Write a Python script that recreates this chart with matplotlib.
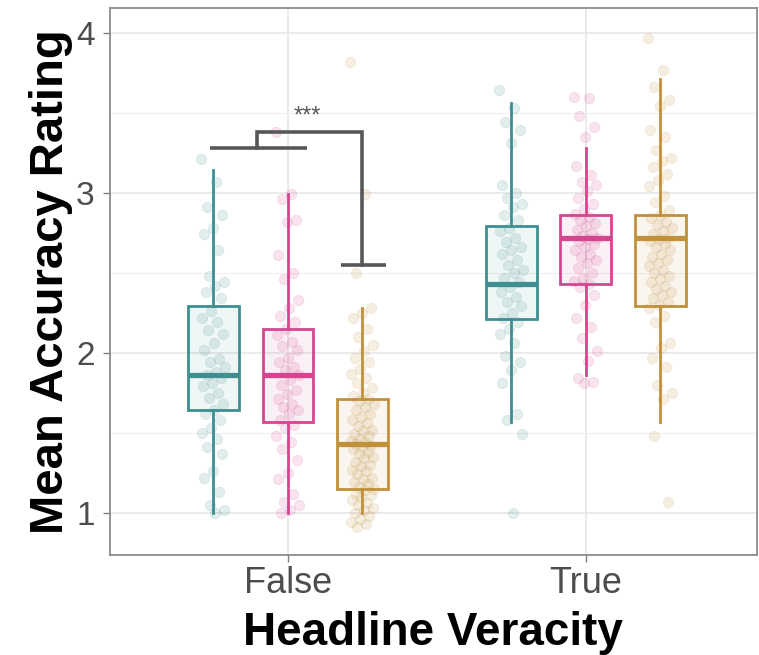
import matplotlib.pyplot as plt
import numpy as np

# x positions: 1 = False, 2 = True ; three groups per veracity level
veracity_labels = ["False", "True"]
group_colors = ["#3f8e90", "#d6468f", "#c0903a"]

# box summary stats (q1, median, q3, whisker low, whisker high)
false_q1 = [1.64, 1.57, 1.15]
false_med = [1.86, 1.86, 1.43]
false_q3 = [2.29, 2.15, 1.71]
false_wlo = [1.00, 1.00, 1.00]
false_whi = [3.14, 2.99, 2.28]

true_q1 = [2.21, 2.43, 2.29]
true_med = [2.43, 2.72, 2.72]
true_q3 = [2.79, 2.86, 2.86]
true_wlo = [1.57, 1.86, 1.57]
true_whi = [3.56, 3.28, 3.71]

# individual participant means (jittered points)
false_teal = [3.21, 3.07, 2.91, 2.86, 2.78, 2.74, 2.64, 2.48, 2.44, 2.42, 2.38, 2.34,
              2.26, 2.22, 2.19, 2.14, 2.12, 2.06, 2.02, 1.96, 1.94, 1.91, 1.88, 1.86,
              1.84, 1.81, 1.79, 1.75, 1.72, 1.68, 1.64, 1.62, 1.58, 1.53, 1.50, 1.46,
              1.41, 1.37, 1.26, 1.22, 1.13, 1.05, 1.02, 1.00]
false_pink = [3.38, 2.99, 2.96, 2.83, 2.82, 2.61, 2.50, 2.46, 2.33, 2.28, 2.23, 2.19,
              2.15, 2.11, 2.07, 2.04, 2.02, 1.97, 1.94, 1.91, 1.89, 1.86, 1.83, 1.80,
              1.77, 1.74, 1.71, 1.68, 1.66, 1.64, 1.62, 1.58, 1.55, 1.53, 1.48, 1.44,
              1.40, 1.33, 1.25, 1.21, 1.12, 1.07, 1.05, 1.02, 1.00]
false_gold = [3.82, 2.99, 2.50, 2.28, 2.25, 2.22, 2.15, 2.10, 2.05, 2.01, 1.97, 1.94,
              1.90, 1.87, 1.84, 1.81, 1.78, 1.75, 1.73, 1.71, 1.70, 1.68, 1.66, 1.64,
              1.62, 1.60, 1.58, 1.56, 1.54, 1.52, 1.51, 1.49, 1.48, 1.46, 1.45, 1.44,
              1.43, 1.42, 1.41, 1.40, 1.38, 1.37, 1.35, 1.34, 1.32, 1.30, 1.29, 1.27,
              1.26, 1.24, 1.22, 1.21, 1.19, 1.18, 1.16, 1.15, 1.14, 1.12, 1.11, 1.10,
              1.08, 1.06, 1.05, 1.03, 1.02, 1.00, 0.98, 0.96, 0.94, 0.93, 0.91]
true_teal = [3.64, 3.53, 3.44, 3.39, 3.31, 3.05, 3.00, 2.97, 2.93, 2.91, 2.86, 2.83,
             2.78, 2.76, 2.72, 2.69, 2.66, 2.64, 2.62, 2.58, 2.55, 2.52, 2.50, 2.47,
             2.44, 2.41, 2.38, 2.35, 2.32, 2.29, 2.25, 2.22, 2.19, 2.15, 2.12, 2.06,
             1.98, 1.94, 1.89, 1.81, 1.62, 1.58, 1.49, 1.00]
true_pink = [3.60, 3.59, 3.48, 3.41, 3.35, 3.17, 3.11, 3.07, 3.05, 3.01, 2.97, 2.93,
             2.90, 2.87, 2.85, 2.83, 2.81, 2.79, 2.77, 2.75, 2.73, 2.72, 2.71, 2.70,
             2.68, 2.66, 2.64, 2.62, 2.60, 2.58, 2.56, 2.53, 2.50, 2.47, 2.45, 2.43,
             2.41, 2.36, 2.30, 2.22, 2.16, 2.09, 2.01, 1.95, 1.84, 1.82, 1.81]
true_gold = [3.97, 3.77, 3.66, 3.58, 3.54, 3.39, 3.35, 3.27, 3.22, 3.20, 3.16, 3.12,
             3.08, 3.04, 2.98, 2.94, 2.89, 2.86, 2.84, 2.82, 2.80, 2.78, 2.76, 2.74,
             2.72, 2.71, 2.70, 2.68, 2.66, 2.64, 2.62, 2.60, 2.58, 2.56, 2.54, 2.52,
             2.50, 2.48, 2.46, 2.44, 2.42, 2.40, 2.38, 2.36, 2.34, 2.32, 2.30, 2.28,
             2.23, 2.19, 2.06, 2.03, 1.97, 1.91, 1.80, 1.75, 1.71, 1.48, 1.07]

# significance bracket (False level): pink/teal pair vs gold
bracket_pair_y = 3.28
bracket_top_y = 3.38
bracket_gold_y = 2.55
sig_label = "***"

plt.rcParams['font.family'] = ['Liberation Sans', 'DejaVu Sans']

fig = plt.figure(figsize=(7.59, 6.55), dpi=100)
ax = fig.add_axes([0.145, 0.153, 0.852, 0.835])

dodge = 0.25
box_w = 0.17
points = [[false_teal, false_pink, false_gold], [true_teal, true_pink, true_gold]]
stats_src = [(false_q1, false_med, false_q3, false_wlo, false_whi),
             (true_q1, true_med, true_q3, true_wlo, true_whi)]

for li, level in enumerate(veracity_labels):
    q1s, meds, q3s, wlos, whis = stats_src[li]
    for g in range(3):
        xc = li + 1 + (g - 1) * dodge
        col = group_colors[g]
        vals = np.array(points[li][g])
        n = len(vals)
        # deterministic spread, stands in for ggplot's jitter
        jit = ((np.arange(n) * 0.618034) % 1.0 - 0.5) * 0.08
        ax.scatter(xc + jit, vals, s=55, color=col, alpha=0.15, edgecolors=col,
                   linewidths=0.6, zorder=2)
        st = [dict(q1=q1s[g], med=meds[g], q3=q3s[g], whislo=wlos[g], whishi=whis[g], fliers=[])]
        bp = ax.bxp(st, positions=[xc], widths=box_w, patch_artist=True, showcaps=False,
                    showfliers=False, manage_ticks=False, zorder=3,
                    boxprops=dict(facecolor=col, edgecolor=col, linewidth=2.0),
                    whiskerprops=dict(color=col, linewidth=2.0),
                    medianprops=dict(color=col, linewidth=3.8, solid_capstyle='butt'))
        for b in bp['boxes']:
            b.set_facecolor(plt.matplotlib.colors.to_rgba(col, 0.08))
            b.set_edgecolor(col)

# bracket
bc = "#575757"
x_teal, x_pink, x_gold = 1 - dodge, 1.0, 1 + dodge
ax.plot([x_teal - 0.012, x_pink + 0.065], [bracket_pair_y] * 2, color=bc, lw=2.6, zorder=4,
        solid_capstyle='butt')
xm = (x_teal + x_pink) / 2 + 0.02
ax.plot([xm, xm, x_gold, x_gold], [bracket_pair_y, bracket_top_y, bracket_top_y, bracket_gold_y],
        color=bc, lw=2.6, zorder=4, solid_joinstyle='miter')
ax.plot([x_gold - 0.07, x_gold + 0.08], [bracket_gold_y] * 2, color=bc, lw=2.6, zorder=4,
        solid_capstyle='butt')
ax.text(1.065, bracket_top_y + 0.03, sig_label, ha='center', va='bottom', fontsize=17, color=bc)

ax.set_xlim(0.403, 2.574)
ax.set_ylim(0.7375, 4.156)
ax.set_xticks([1, 2])
ax.set_xticklabels(veracity_labels)
ax.set_yticks([1, 2, 3, 4])
ax.set_yticks([1.5, 2.5, 3.5], minor=True)
ax.tick_params(axis='both', which='major', labelsize=26, labelcolor='#4d4d4d', color='#7f7f7f',
               length=5, width=1, pad=3)
ax.tick_params(axis='y', which='major', labelsize=24, pad=6)
ax.tick_params(axis='both', which='minor', length=0)
ax.grid(True, which='major', color='#e6e6e6', linewidth=1.2, zorder=0)
ax.grid(True, which='minor', axis='y', color='#efefef', linewidth=0.8, zorder=0)
ax.set_axisbelow(True)
for sp in ax.spines.values():
    sp.set_color('#8c8c8c')
    sp.set_linewidth(1.3)

ax.set_xlabel("Headline Veracity", fontsize=33, fontweight='bold', labelpad=7)
ax.set_ylabel("Mean Accuracy Rating", fontsize=34, fontweight='bold', labelpad=2)

fig.savefig("out.png", dpi=100)
